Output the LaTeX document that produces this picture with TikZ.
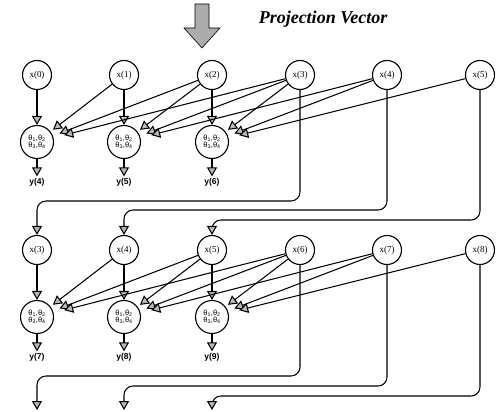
\documentclass[tikz,border=0pt]{standalone}
\usepackage{fontspec}
\setmainfont{Liberation Serif}
\setsansfont{Liberation Sans}
\usetikzlibrary{arrows.meta}
\begin{document}
\begin{tikzpicture}[x=1pt,y=-1pt,
  xnode/.style={circle,draw,line width=1.1pt,minimum size=29pt,inner sep=0pt,font=\fontsize{9}{9}\selectfont},
  bnode/.style={circle,draw,line width=1.1pt,minimum size=33pt,inner sep=0pt,font=\sffamily\fontsize{7.5}{8}\selectfont,align=center},
  ylab/.style={inner sep=1.5pt,font=\sffamily\bfseries\fontsize{8.5}{9}\selectfont},
  conn/.style={line width=1.05pt,-{Triangle[length=9pt,width=10pt,fill=gray!55]}},
  route/.style={conn,rounded corners=9pt},
  bigarrow/.style={draw,line width=0.6pt,fill=gray!65},
  title/.style={font=\bfseries\itshape\fontsize{18}{20}\selectfont}
]
\useasboundingbox (0,0) rectangle (496,412);

% title and projection arrow
\draw[bigarrow] (195,4) -- (209,4) -- (209,28) -- (220,28) -- (202,48) -- (184,28) -- (195,28) -- cycle;
\node[title] (pv) at (323,19) {Projection Vector};

% first row inputs
\foreach \i/\x in {0/37,1/124,2/212,3/300,4/387,5/480}
  \node[xnode] (a\i) at (\x,75) {x(\i)};
% second row inputs
\foreach \i/\x in {3/37,4/124,5/212,6/300,7/387,8/480}
  \node[xnode] (c\i) at (\x,250) {x(\i)};

% processing nodes
\foreach \k/\x in {0/37,1/124,2/212}{
  \node[bnode] (b\k) at (\x,142) {θ\textsubscript{1},θ\textsubscript{2}\\[-1pt]θ\textsubscript{3},θ\textsubscript{4}};
  \node[bnode] (d\k) at (\x,317) {θ\textsubscript{1},θ\textsubscript{2}\\[-1pt]θ\textsubscript{3},θ\textsubscript{4}};
}
\foreach \k/\x/\n in {0/37/4,1/124/5,2/212/6}
  \node[ylab] (ya\k) at (\x,182) {y(\n)};
\foreach \k/\x/\n in {0/37/7,1/124/8,2/212/9}
  \node[ylab] (yb\k) at (\x,357) {y(\n)};

% outputs
\foreach \k in {0,1,2}{
  \draw[conn] (b\k.south) -- (ya\k.north);
  \draw[conn] (d\k.south) -- (yb\k.north);
}

% vertical inputs
\foreach \k in {0,1,2}{
  \pgfmathtruncatemacro\m{\k+3}
  \draw[conn] (a\k) -- (b\k);
  \draw[conn] (c\m) -- (d\k);
}

% slanted inputs
\foreach \k in {0,1,2}{
  \foreach \d in {1,2,3}{
    \pgfmathtruncatemacro\j{\k+\d}
    \pgfmathtruncatemacro\m{\k+\d+3}
    \pgfmathsetmacro\sh{4*\d-1}
    \draw[conn,shorten >=\sh pt] (a\j) -- (b\k);
    \draw[conn,shorten >=\sh pt] (c\m) -- (d\k);
  }
}

% feedback routes
\coordinate (h1) at (0,201);
\coordinate (h2) at (0,210);
\coordinate (h3) at (0,220);
\coordinate (g1) at (0,376);
\coordinate (g2) at (0,386);
\coordinate (g3) at (0,396);
\coordinate (e0) at (37,410);
\coordinate (e1) at (124,410);
\coordinate (e2) at (212,410);

\draw[route] (a3.south) -- (a3.south |- h1) -- (c3.north |- h1) -- (c3.north);
\draw[route] (a4.south) -- (a4.south |- h2) -- (c4.north |- h2) -- (c4.north);
\draw[route] (a5.south) -- (a5.south |- h3) -- (c5.north |- h3) -- (c5.north);

\draw[route] (c6.south) -- (c6.south |- g1) -- (e0 |- g1) -- (e0);
\draw[route] (c7.south) -- (c7.south |- g2) -- (e1 |- g2) -- (e1);
\draw[route] (c8.south) -- (c8.south |- g3) -- (e2 |- g3) -- (e2);
\end{tikzpicture}
\end{document}
